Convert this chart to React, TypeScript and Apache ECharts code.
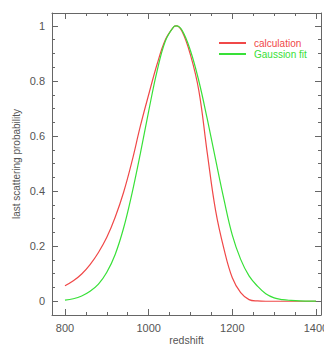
import React, { useEffect, useRef } from "react";
import * as echarts from "echarts";

const redshift = [800, 820, 840, 860, 880, 900, 920, 940, 960, 980, 1000, 1020, 1040, 1060, 1066, 1080, 1100, 1120, 1140, 1160, 1180, 1200, 1220, 1240, 1260, 1280, 1300, 1320, 1340, 1360, 1380, 1400];
const calculation = [0.056, 0.074, 0.099, 0.133, 0.177, 0.232, 0.305, 0.395, 0.507, 0.635, 0.75, 0.86, 0.95, 0.997, 1.0, 0.98, 0.895, 0.765, 0.54, 0.33, 0.19, 0.085, 0.031, 0.006, 0.001, 0, 0, 0, 0, 0, 0, 0];
const gaussFit = [0.004, 0.009, 0.019, 0.036, 0.062, 0.105, 0.17, 0.265, 0.39, 0.535, 0.69, 0.835, 0.945, 0.997, 1.0, 0.984, 0.91, 0.8, 0.663, 0.515, 0.37, 0.24, 0.152, 0.092, 0.055, 0.027, 0.012, 0.006, 0.003, 0.001, 0.0004, 0.0001];

const xMajor = [800, 1000, 1200, 1400];
const xMinor = [850, 900, 950, 1050, 1100, 1150, 1250, 1300, 1350];
const yMajor = [0, 0.2, 0.4, 0.6, 0.8, 1];
const yMinor = [0.05, 0.1, 0.15, 0.25, 0.3, 0.35, 0.45, 0.5, 0.55, 0.65, 0.7, 0.75, 0.85, 0.9, 0.95];

const AXIS = "#666";
const FONT = "Liberation Sans";
const RED = "#f04848";
const GREEN = "#38e038";

export default function App() {
  const ref = useRef<HTMLDivElement>(null);
  useEffect(() => {
    const chart = echarts.init(ref.current!, null, { renderer: "svg" });
    const xBase = { type: "value", min: 769, max: 1412, splitLine: { show: false } };
    const yBase = { type: "value", min: -0.05, max: 1.047, splitLine: { show: false } };
    const tickAxis = (base: any, position: string, values: number[], len: number, line: boolean) => ({
      ...base,
      position,
      axisLine: { show: line, onZero: false, lineStyle: { color: AXIS, width: 1 } },
      axisTick: { show: true, inside: true, length: len, customValues: values, lineStyle: { color: AXIS } },
      axisLabel: { show: false },
    });
    chart.setOption({
      animation: false,
      grid: { left: 52, top: 13, right: 3, bottom: 30, containLabel: false, outerBoundsMode: "none" },
      xAxis: [
        {
          ...xBase,
          position: "bottom",
          name: "redshift",
          nameLocation: "middle",
          nameGap: 19,
          nameMoveOverlap: false,
          nameTextStyle: { color: "#555", fontFamily: FONT, fontSize: 10.5 },
          axisLine: { show: true, onZero: false, lineStyle: { color: AXIS, width: 1 } },
          axisTick: { show: true, inside: true, length: 6, customValues: xMajor, lineStyle: { color: AXIS } },
          axisLabel: {
            show: true,
            customValues: xMajor,
            formatter: (v: number) => String(v),
            color: "#555",
            fontFamily: FONT,
            fontSize: 11,
            margin: 7,
          },
        },
        tickAxis(xBase, "bottom", xMinor, 3, false),
        tickAxis(xBase, "top", xMajor, 6, true),
        tickAxis(xBase, "top", xMinor, 3, false),
      ],
      yAxis: [
        {
          ...yBase,
          position: "left",
          name: "last scattering probability",
          nameLocation: "middle",
          nameGap: 31,
          nameMoveOverlap: false,
          nameTextStyle: { color: "#555", fontFamily: FONT, fontSize: 10 },
          axisLine: { show: true, onZero: false, lineStyle: { color: AXIS, width: 1 } },
          axisTick: { show: true, inside: true, length: 6, customValues: yMajor, lineStyle: { color: AXIS } },
          axisLabel: {
            show: true,
            customValues: yMajor,
            formatter: (v: number) => String(v),
            color: "#555",
            fontFamily: FONT,
            fontSize: 11,
            margin: 7,
          },
        },
        tickAxis(yBase, "left", yMinor, 3, false),
        tickAxis(yBase, "right", yMajor, 6, true),
        tickAxis(yBase, "right", yMinor, 3, false),
      ],
      legend: {
        left: 218,
        top: 38,
        padding: 0,
        orient: "vertical",
        itemWidth: 27,
        itemHeight: 8,
        itemGap: 1,
        itemStyle: { opacity: 0 },
        textStyle: { fontFamily: FONT, fontSize: 10, padding: [0, 0, 0, 3] },
        data: [
          { name: "calculation", textStyle: { color: RED } },
          { name: "Gaussion fit", textStyle: { color: GREEN } },
        ],
      },
      series: [
        {
          name: "calculation",
          type: "line",
          smooth: 0.4,
          symbol: "none",
          xAxisIndex: 0,
          yAxisIndex: 0,
          data: redshift.map((x, i) => [x, calculation[i]]),
          lineStyle: { color: RED, width: 1.2 },
          itemStyle: { color: RED },
        },
        {
          name: "Gaussion fit",
          type: "line",
          smooth: 0.4,
          symbol: "none",
          xAxisIndex: 0,
          yAxisIndex: 0,
          data: redshift.map((x, i) => [x, gaussFit[i]]),
          lineStyle: { color: GREEN, width: 1.2 },
          itemStyle: { color: GREEN },
        },
      ],
    });
    return () => chart.dispose();
  }, []);
  return <div ref={ref} style={{ width: 324, height: 345, position: "absolute", left: 0, top: 0 }} />;
}
